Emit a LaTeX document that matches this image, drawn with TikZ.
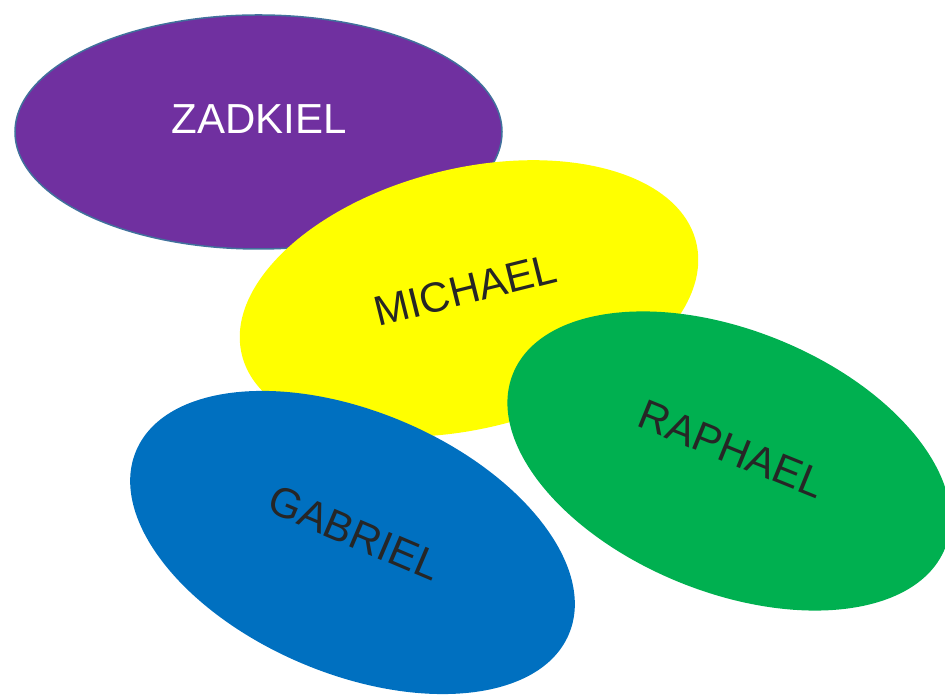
\documentclass[tikz,border=0pt]{standalone}
\usepackage{fontspec}
\setmainfont{Liberation Sans}
\definecolor{zpurple}{HTML}{7030A0}
\definecolor{zoutline}{HTML}{41719C}
\definecolor{myellow}{HTML}{FFFF00}
\definecolor{rgreen}{HTML}{00B050}
\definecolor{gblue}{HTML}{0070C0}
\definecolor{darktext}{HTML}{262626}
\begin{document}
\begin{tikzpicture}[x=1pt,y=1pt,
  label/.style={inner sep=0pt, font=\fontsize{42}{50}\selectfont, text=darktext}]
\useasboundingbox (0,0) rectangle (945,700);
\clip (0,0) rectangle (945,700);
% ZADKIEL
\filldraw[fill=zpurple, draw=zoutline, line width=1.5pt] (258.5,568) ellipse [x radius=243.5, y radius=117];
\node[label, text=white] (zadkiel) at (259,581) {ZADKIEL};
% MICHAEL
\fill[myellow, rotate around={14:(469,401.5)}] (469,401.5) ellipse [x radius=234, y radius=130];
\node[label, rotate=14] (michael) at (465.5,410) {MICHAEL};
% RAPHAEL
\fill[rgreen, rotate around={-22:(729,239)}] (729,239) ellipse [x radius=233, y radius=131];
\node[label, rotate=-22] (raphael) at (731.5,251) {RAPHAEL};
% GABRIEL
\fill[gblue, rotate around={-23:(352.5,157.5)}] (352.5,157.5) ellipse [x radius=235, y radius=131];
\node[label, rotate=-23] (gabriel) at (354.5,167) {GABRIEL};
\end{tikzpicture}
\end{document}
